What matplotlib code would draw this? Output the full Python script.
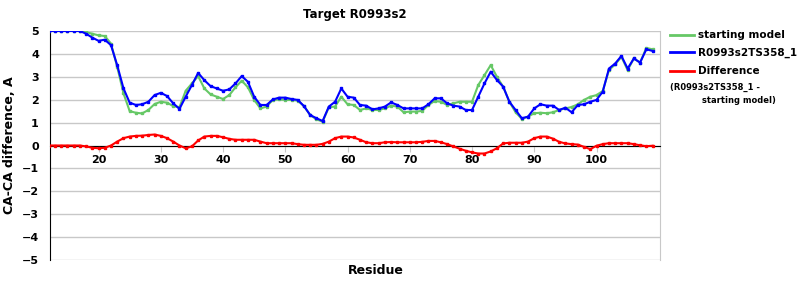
import numpy as np
import matplotlib.pyplot as plt
from matplotlib.lines import Line2D

# residues 12..109
residues = list(range(12, 110))

# starting model CA-CA difference
starting = [5.0, 5.0, 5.0, 5.0, 5.0, 5.0, 4.95, 4.88, 4.81, 4.78,
            4.45, 3.43, 2.28, 1.5, 1.43, 1.4, 1.55, 1.81, 1.91, 1.87,
            1.72, 1.67, 2.39, 2.71, 3.03, 2.49, 2.23, 2.13, 2.03, 2.2,
            2.54, 2.83, 2.54, 1.99, 1.62, 1.7, 1.99, 2.01, 1.99, 1.99,
            1.96, 1.72, 1.33, 1.14, 1.04, 1.67, 1.7, 2.13, 1.8, 1.77,
            1.55, 1.62, 1.55, 1.55, 1.62, 1.74, 1.7, 1.45, 1.48, 1.48,
            1.51, 1.77, 1.94, 1.91, 1.77, 1.84, 1.91, 1.91, 1.91, 2.64,
            3.07, 3.51, 3.0, 2.57, 1.91, 1.45, 1.16, 1.26, 1.41, 1.43,
            1.41, 1.45, 1.55, 1.62, 1.68, 1.8, 1.99, 2.13, 2.2, 2.38,
            3.29, 3.54, 3.87, 3.29, 3.8, 3.62, 4.26, 4.2]

# R0993s2TS358_1
model = [5.0, 5.0, 5.0, 5.0, 5.0, 5.0, 4.88, 4.71, 4.57, 4.62,
         4.38, 3.5, 2.5, 1.87, 1.77, 1.8, 1.91, 2.2, 2.3, 2.16,
         1.84, 1.6, 2.13, 2.64, 3.17, 2.85, 2.59, 2.49, 2.39, 2.45,
         2.71, 3.03, 2.78, 2.13, 1.77, 1.77, 2.01, 2.09, 2.09, 2.03,
         1.99, 1.72, 1.33, 1.19, 1.07, 1.7, 1.91, 2.49, 2.13, 2.09,
         1.77, 1.74, 1.58, 1.62, 1.7, 1.88, 1.77, 1.62, 1.62, 1.62,
         1.62, 1.8, 2.06, 2.06, 1.84, 1.74, 1.7, 1.55, 1.55, 2.13,
         2.71, 3.22, 2.86, 2.57, 1.91, 1.55, 1.19, 1.26, 1.62, 1.8,
         1.74, 1.74, 1.55, 1.65, 1.45, 1.77, 1.8, 1.91, 1.99, 2.35,
         3.36, 3.58, 3.91, 3.36, 3.8, 3.62, 4.2, 4.13]

# smoothed difference
difference = [0.0, 0.0, 0.0, 0.0, 0.0, 0.0, -0.04, -0.1, -0.12, -0.1,
              0.0, 0.17, 0.32, 0.39, 0.42, 0.43, 0.46, 0.48, 0.42, 0.32,
              0.17, 0.0, -0.12, -0.04, 0.22, 0.39, 0.42, 0.42, 0.36, 0.29,
              0.25, 0.25, 0.25, 0.25, 0.17, 0.1, 0.1, 0.1, 0.1, 0.1,
              0.06, 0.03, 0.03, 0.03, 0.07, 0.17, 0.32, 0.39, 0.39, 0.35,
              0.25, 0.14, 0.1, 0.1, 0.14, 0.15, 0.14, 0.14, 0.14, 0.14,
              0.16, 0.2, 0.2, 0.14, 0.06, -0.04, -0.14, -0.23, -0.3, -0.35,
              -0.35, -0.26, -0.12, 0.09, 0.12, 0.12, 0.12, 0.17, 0.32, 0.39,
              0.39, 0.3, 0.16, 0.09, 0.06, 0.04, -0.06, -0.16, -0.01, 0.06,
              0.1, 0.1, 0.1, 0.1, 0.06, 0.01, -0.03, -0.01]

green = '#66c866'
blue = '#0000ff'
red = '#ff0000'

fig = plt.figure(figsize=(8, 3), dpi=100)
ax = fig.add_axes([0.0625, 0.1333, 0.7625, 0.7634])

ax.plot(residues, starting, color=green, lw=1.5, marker='s', ms=1.8, zorder=3)
ax.plot(residues, model, color=blue, lw=1.5, marker='s', ms=1.8, zorder=4)
ax.plot(residues, difference, color=red, lw=1.5, marker='s', ms=1.8, zorder=4)

ax.set_xlim(12.2, 110.2)
ax.set_ylim(-5, 5)
ax.set_yticks(range(-5, 6))
ax.set_yticklabels([str(v).replace('-', '\u2212') for v in range(-5, 6)])
ax.set_xticks(range(20, 101, 10))
ax.grid(axis='y', color='#c8c8c8', lw=1)
ax.set_axisbelow(True)

ax.spines['bottom'].set_position(('data', 0))
ax.spines['bottom'].set_color('black')
ax.spines['left'].set_color('black')
ax.spines['top'].set_visible(False)
ax.spines['right'].set_color('#c8c8c8')
ax.tick_params(axis='y', length=0, pad=8, labelsize=8)
ax.tick_params(axis='x', length=4, color='#c8c8c8', pad=3, labelsize=8)
for lab in ax.get_xticklabels() + ax.get_yticklabels():
    lab.set_fontweight('bold')

ax.set_title('Target R0993s2', fontsize=8.5, fontweight='bold', pad=9)
ax.set_ylabel('CA-CA difference, A', fontsize=9, fontweight='bold', labelpad=4)
fig.text(0.47, 0.085, 'Residue', fontsize=9, fontweight='bold', ha='center')

handles = [Line2D([], [], color=green, lw=2),
           Line2D([], [], color=blue, lw=2),
           Line2D([], [], color=red, lw=2)]
leg = ax.legend(handles, ['starting model', 'R0993s2TS358_1', 'Difference'],
                loc='upper left', bbox_to_anchor=(1.005, 1.035), frameon=False,
                prop={'weight': 'bold', 'size': 7.5}, handlelength=2.3,
                handletextpad=0.4, labelspacing=0.75, borderaxespad=0.3)
fig.text(0.838, 0.7, '(R0993s2TS358_1 -', fontsize=6, fontweight='bold')
fig.text(0.878, 0.657, 'starting model)', fontsize=6, fontweight='bold')

fig.savefig('out.png', dpi=100)
